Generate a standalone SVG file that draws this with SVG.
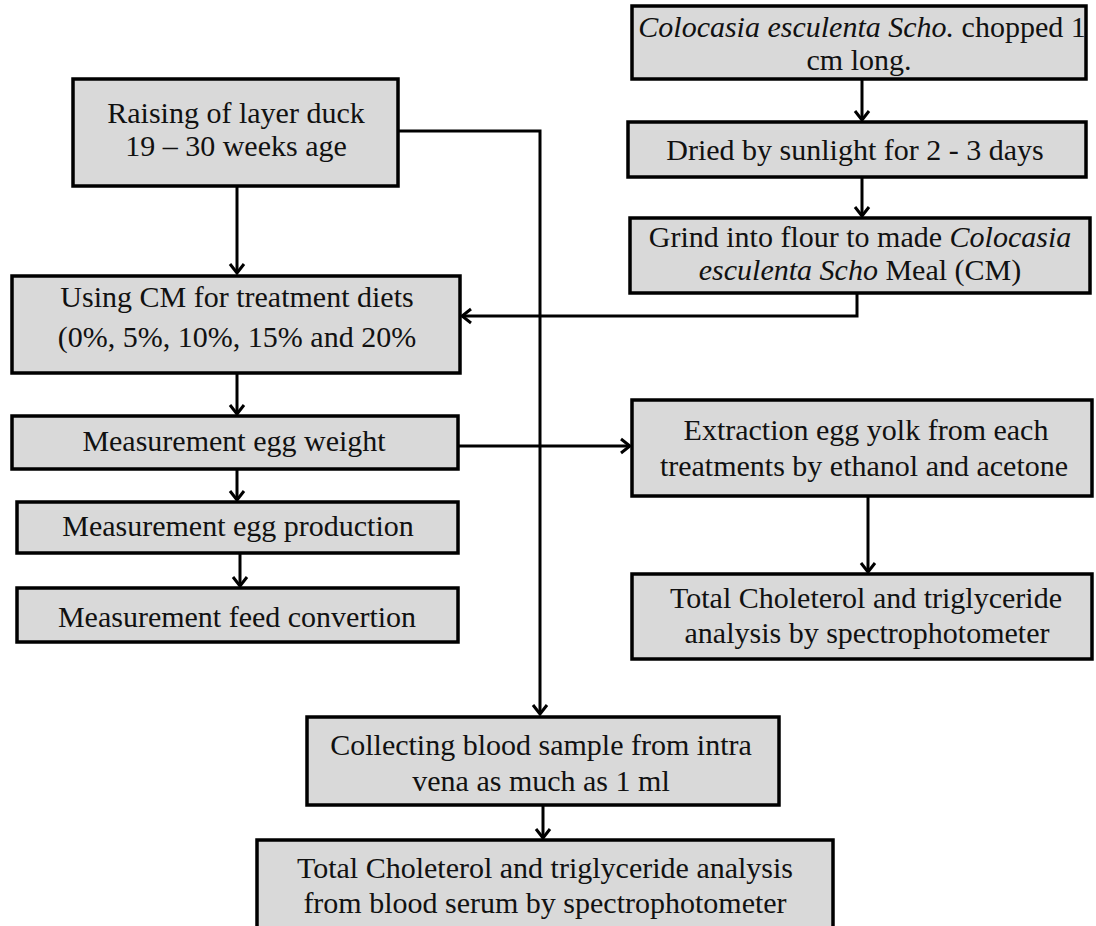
<svg xmlns="http://www.w3.org/2000/svg" width="1096" height="926" viewBox="0 0 1096 926">
<style>
.box{fill:#d9d9d9;stroke:#000;stroke-width:3.5}
.t{font-family:"Liberation Serif","Times New Roman",serif;font-size:30px;fill:#111;text-anchor:middle}
.i{font-style:italic}
.c{fill:none;stroke:#000;stroke-width:3}
</style>
<defs>
<marker id="ah" viewBox="-12 -9 14 18" markerWidth="14" markerHeight="18" refX="0" refY="0" orient="auto" markerUnits="userSpaceOnUse">
<path d="M-9,-7 L0,0 L-9,7" fill="none" stroke="#000" stroke-width="3"/>
</marker>
</defs>
<rect width="1096" height="926" fill="#fff"/>
<g id="connectors">
<path class="c" d="M862,79 V120" marker-end="url(#ah)"/>
<path class="c" d="M862,177 V216" marker-end="url(#ah)"/>
<path class="c" d="M857,293 V316 H462" marker-end="url(#ah)"/>
<path class="c" d="M398,131 H540 V714" marker-end="url(#ah)"/>
<path class="c" d="M237,186 V273" marker-end="url(#ah)"/>
<path class="c" d="M237,373 V414" marker-end="url(#ah)"/>
<path class="c" d="M458,446 H630" marker-end="url(#ah)"/>
<path class="c" d="M237,469 V500" marker-end="url(#ah)"/>
<path class="c" d="M240,546 V586" marker-end="url(#ah)"/>
<path class="c" d="M868,496 V572" marker-end="url(#ah)"/>
<path class="c" d="M543,805 V838" marker-end="url(#ah)"/>
</g>
<g id="n-chop">
<rect class="box" x="632" y="6" width="454" height="73"/>
<text class="t" x="862" y="37"><tspan class="i">Colocasia esculenta Scho.</tspan> chopped 1</text>
<text class="t" x="859" y="70">cm long.</text>
</g>
<g id="n-dried">
<rect class="box" x="628" y="122" width="458" height="55"/>
<text class="t" x="855" y="160">Dried by sunlight for 2 - 3 days</text>
</g>
<g id="n-grind">
<rect class="box" x="630" y="218" width="460" height="75"/>
<text class="t" x="860" y="247">Grind into flour to made <tspan class="i">Colocasia</tspan></text>
<text class="t" x="860" y="280"><tspan class="i">esculenta Scho</tspan>  Meal (CM)</text>
</g>
<g id="n-raise">
<rect class="box" x="73" y="79" width="325" height="107"/>
<text class="t" x="236" y="123">Raising of layer duck</text>
<text class="t" x="236" y="156">19 – 30 weeks age</text>
</g>
<g id="n-using">
<rect class="box" x="12" y="276" width="448" height="97"/>
<text class="t" x="237" y="307">Using  CM  for treatment diets</text>
<text class="t" x="237" y="347">(0%, 5%, 10%, 15% and  20%</text>
</g>
<g id="n-weight">
<rect class="box" x="12" y="416" width="446" height="53"/>
<text class="t" x="234" y="451">Measurement egg weight</text>
</g>
<g id="n-prod">
<rect class="box" x="17" y="502" width="441" height="51"/>
<text class="t" x="238" y="536">Measurement egg production</text>
</g>
<g id="n-feed">
<rect class="box" x="17" y="588" width="441" height="54"/>
<text class="t" x="237" y="627">Measurement feed convertion</text>
</g>
<g id="n-extract">
<rect class="box" x="632" y="400" width="460" height="96"/>
<text class="t" x="866" y="440">Extraction  egg yolk from each</text>
<text class="t" x="864" y="476">treatments  by ethanol and acetone</text>
</g>
<g id="n-total1">
<rect class="box" x="632" y="574" width="460" height="85"/>
<text class="t" x="866" y="608">Total Choleterol and triglyceride</text>
<text class="t" x="867" y="643">analysis by spectrophotometer</text>
</g>
<g id="n-blood">
<rect class="box" x="307" y="717" width="472" height="88"/>
<text class="t" x="541" y="755">Collecting blood sample from intra</text>
<text class="t" x="541" y="791">vena as much as 1 ml</text>
</g>
<g id="n-total2">
<rect class="box" x="257" y="840" width="576" height="100"/>
<text class="t" x="545" y="878">Total Choleterol and triglyceride  analysis</text>
<text class="t" x="545" y="913">from blood serum by spectrophotometer</text>
</g>
</svg>
